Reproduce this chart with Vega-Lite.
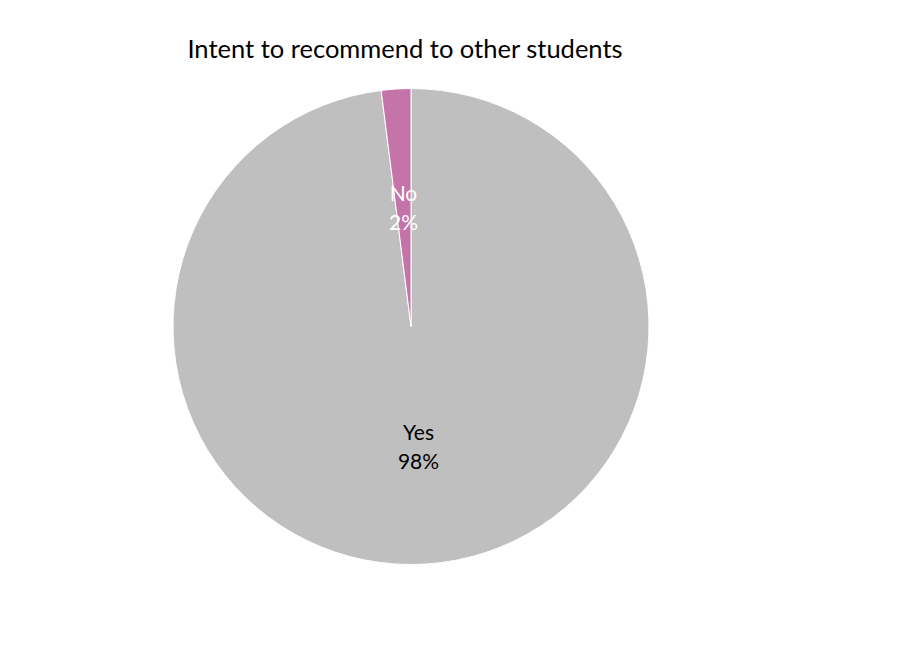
{
  "$schema": "https://vega.github.io/schema/vega-lite/v6.json",
  "width": 822,
  "height": 653,
  "autosize": "none",
  "padding": 0,
  "background": "white",
  "config": {"view": {"stroke": null}},
  "title": {
    "text": "Intent to recommend to other students",
    "font": "Lato",
    "fontSize": 25.5,
    "fontWeight": "normal",
    "color": "#000000",
    "anchor": "middle",
    "dx": -6,
    "offset": -83,
    "baseline": "alphabetic"
  },
  "data": {
    "values": [
      {"category": "Yes", "value": 98, "label": "Yes\n98%"},
      {"category": "No", "value": 2, "label": "No\n2%"}
    ]
  },
  "encoding": {
    "theta": {"field": "value", "type": "quantitative", "stack": true},
    "order": {"field": "category", "sort": "descending"}
  },
  "layer": [
    {
      "mark": {"type": "arc", "outerRadius": 238, "stroke": "white", "strokeWidth": 1},
      "encoding": {
        "color": {
          "field": "category",
          "type": "nominal",
          "scale": {"domain": ["Yes", "No"], "range": ["#BFBFBF", "#C474A8"]},
          "legend": null
        }
      }
    },
    {
      "mark": {"type": "text", "radius": 120, "font": "Lato", "fontSize": 21, "lineBreak": "\n", "lineHeight": 29, "baseline": "middle", "align": "center", "dy": -12},
      "encoding": {
        "text": {"field": "label"},
        "color": {
          "field": "category",
          "type": "nominal",
          "scale": {"domain": ["Yes", "No"], "range": ["#000000", "#FFFFFF"]},
          "legend": null
        }
      }
    }
  ],
  "resolve": {"scale": {"color": "independent"}}
}
